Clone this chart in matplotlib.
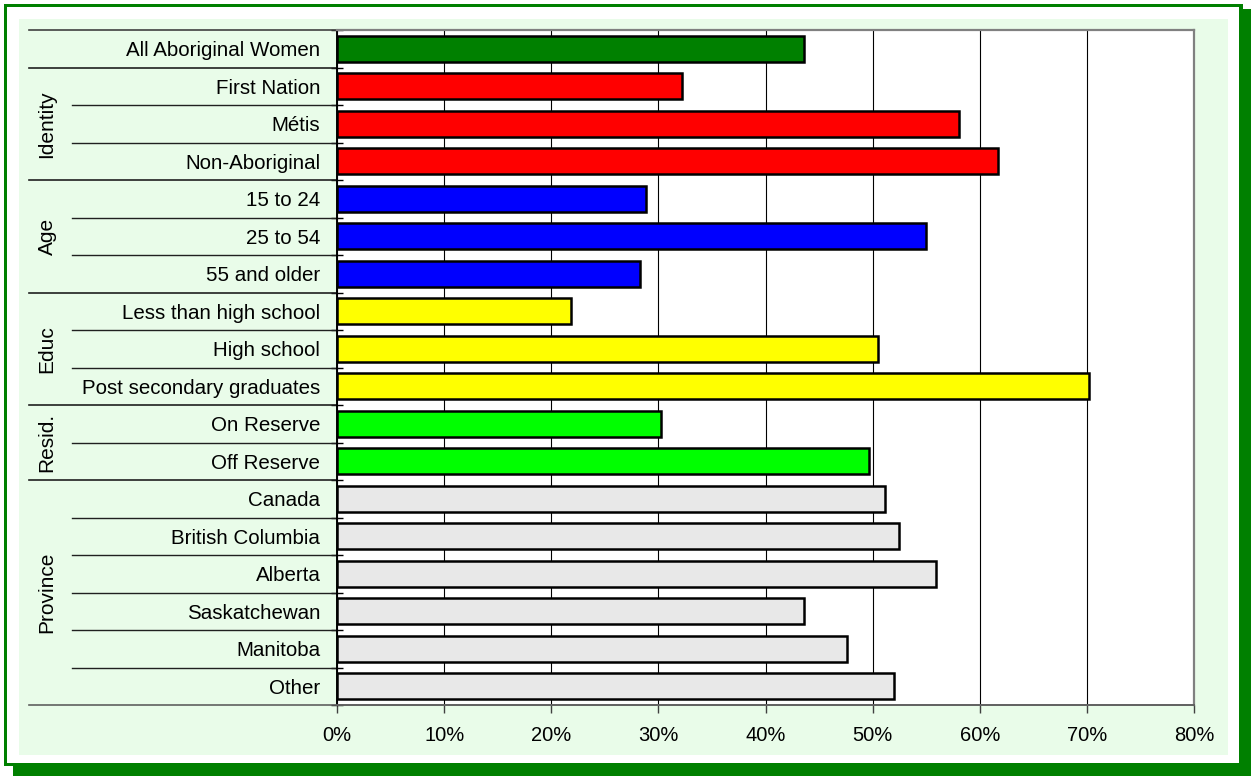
import matplotlib
matplotlib.use('Agg')
import matplotlib.pyplot as plt
from matplotlib.patches import Rectangle

plt.rcParams['font.family'] = ['Liberation Sans', 'DejaVu Sans']

# data
categories = ['All Aboriginal Women',
              'First Nation', 'Métis', 'Non-Aboriginal',
              '15 to 24', '25 to 54', '55 and older',
              'Less than high school', 'High school', 'Post secondary graduates',
              'On Reserve', 'Off Reserve',
              'Canada', 'British Columbia', 'Alberta', 'Saskatchewan', 'Manitoba', 'Other']
values = [43.6,
          32.2, 58.1, 61.7,
          28.8, 55.0, 28.3,
          21.8, 50.5, 70.2,
          30.2, 49.7,
          51.2, 52.5, 55.9, 43.6, 47.6, 52.0]
groups = [('', 1), ('Identity', 3), ('Age', 3), ('Educ', 3), ('Resid.', 2), ('Province', 6)]
group_colors = ['#008000', '#FF0000', '#0000FF', '#FFFF00', '#00FF00', '#E8E8E8']
xticks = [0, 10, 20, 30, 40, 50, 60, 70, 80]

W, H = 1251, 776
fig = plt.figure(figsize=(W / 100, H / 100), dpi=100)
fig.patch.set_facecolor('white')


def px_rect(x0, y0, x1, y1, **kw):
    # rectangle given in pixel coords (origin top-left)
    r = Rectangle((x0 / W, 1 - y1 / H), (x1 - x0) / W, (y1 - y0) / H,
                  transform=fig.transFigure, linewidth=0, **kw)
    fig.patches.append(r)


# frame with shadow
px_rect(13, 9, 1251, 776, facecolor='#008000', zorder=-5)
px_rect(4, 4, 1243, 766, facecolor='#008000', zorder=-4)
px_rect(7, 7, 1239, 763, facecolor='white', zorder=-3)
px_rect(19, 19, 1228, 755, facecolor='#E9FCE9', zorder=-2)

L, R, T, B = 337, 1194, 30, 705
ax = fig.add_axes([L / W, 1 - B / H, (R - L) / W, (B - T) / H])
ax.set_facecolor('white')

# colors per bar
colors = []
for (name, n), c in zip(groups, group_colors):
    colors += [c] * n

ypos = list(range(len(categories)))
ax.barh(ypos, values, height=0.69, color=colors, edgecolor='black', linewidth=1.8, zorder=3)

ax.set_xlim(0, 80)
ax.set_ylim(len(categories) - 0.5, -0.5)
ax.set_xticks(xticks)
ax.set_xticklabels([f'{v}%' for v in xticks], fontsize=14.5)
ax.tick_params(axis='x', direction='out', length=6, width=1, color='#404040', pad=9)
ax.xaxis.grid(True, color='black', linewidth=0.8)
ax.set_axisbelow(True)

ax.set_yticks(ypos)
ax.set_yticklabels(categories, fontsize=14.8)
ax.tick_params(axis='y', length=0, pad=12)
ax.set_yticks([i - 0.5 for i in range(len(categories) + 1)], minor=True)
ax.tick_params(axis='y', which='minor', direction='inout', length=9, width=1, color='black')

for s in ['top', 'right']:
    ax.spines[s].set_color('#808080')
    ax.spines[s].set_linewidth(1.6)
ax.spines['left'].set_color('black')
ax.spines['left'].set_linewidth(1.4)
ax.spines['bottom'].set_color('#606060')
ax.spines['bottom'].set_linewidth(1.4)

# category separators and group labels
trans = ax.get_yaxis_transform()
x_outer = (29 - L) / (R - L)
x_inner = (72 - L) / (R - L)
x_glabel = (47 - L) / (R - L)
ax.plot([x_outer, 0], [-0.5, -0.5], transform=trans, color='#404040', lw=1.2, clip_on=False)
start = 0
for name, n in groups:
    for k in range(1, n):
        yb = start + k - 0.5
        ax.plot([x_inner, 0], [yb, yb], transform=trans, color='#202020', lw=1, clip_on=False)
    yb = start + n - 0.5
    ax.plot([x_outer, 0], [yb, yb], transform=trans,
            color='#606060' if start + n == len(categories) else '#202020', lw=1.2, clip_on=False)
    if name:
        ax.text(x_glabel, start + (n - 1) / 2, name, transform=trans, rotation=90,
                ha='center', va='center', fontsize=15)
    start += n

fig.savefig('out.png', dpi=100)
